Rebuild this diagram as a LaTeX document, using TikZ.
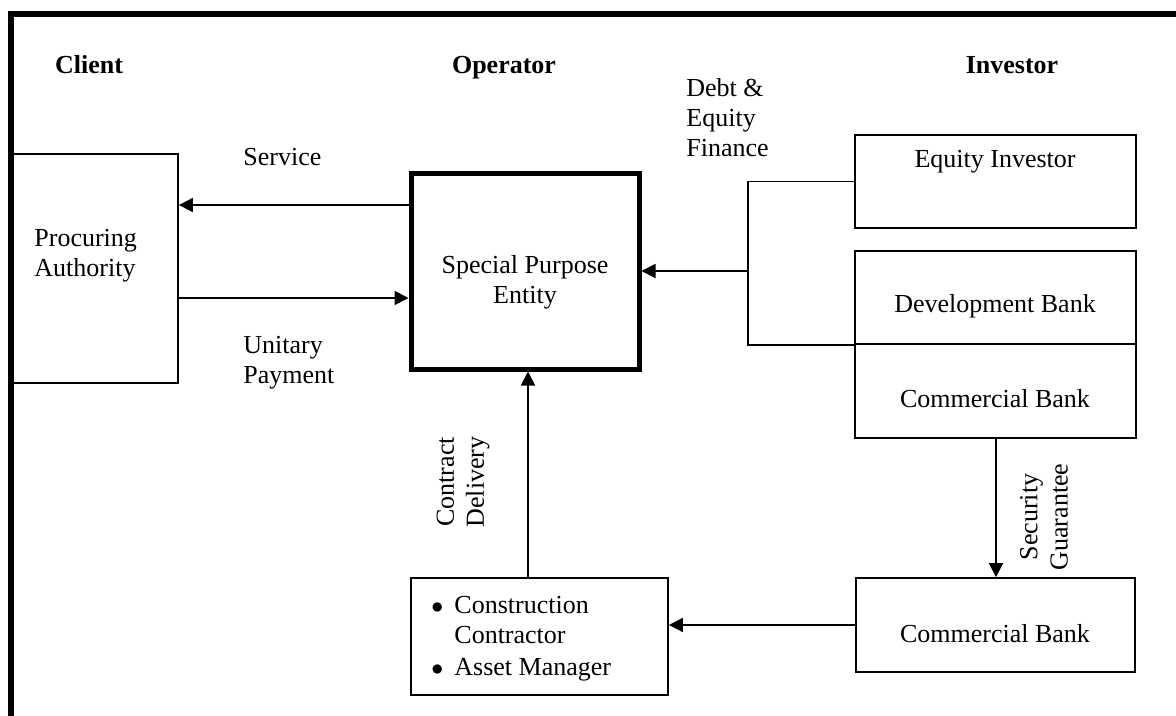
\documentclass[tikz,border=0pt]{standalone}
\usepackage{fontspec}
\setmainfont{Liberation Serif}
\usetikzlibrary{arrows.meta}
\tikzset{
  box/.style={draw, line width=0.9pt, inner sep=0pt},
  thickbox/.style={draw, line width=2.5pt, inner sep=0pt},
  txt/.style={inner sep=0pt, font=\fontsize{13pt}{15pt}\selectfont},
  hdr/.style={txt, font=\fontsize{13pt}{15pt}\selectfont\bfseries},
  conn/.style={line width=0.9pt},
  arr/.style={line width=0.9pt, -{Triangle[length=7pt,width=7pt]}},
}
\newcommand{\mybul}{\makebox[11.5pt][l]{$\bullet$}}
\begin{document}
\begin{tikzpicture}[x=0.5pt,y=-0.5pt]
\useasboundingbox (0,0) rectangle (1176,716);
% frame
\draw[line width=3pt, line join=miter] (11,730) -- (11,14) -- (1190,14);

% headers
\node[hdr, anchor=base] (hclient) at (89,74) {Client};
\node[hdr, anchor=base] (hoper) at (504,74) {Operator};
\node[hdr, anchor=base] (hinv) at (1012,74) {Investor};

% boxes
\node[box, minimum width=83pt, minimum height=114.5pt] (PA) at (95,268.5) {};
\node[thickbox, minimum width=114pt, minimum height=97.5pt] (SPE) at (525,271.5) {};
\node[box, minimum width=140.5pt, minimum height=46.5pt] (EI) at (995.5,181.5) {};
\node[box, minimum width=140.5pt, minimum height=46.5pt] (DB) at (995.5,297.5) {};
\node[box, minimum width=140.5pt, minimum height=47pt] (CB1) at (995.5,391) {};
\node[box, minimum width=128.5pt, minimum height=58.5pt] (CC) at (539.5,636.5) {};
\node[box, minimum width=139.5pt, minimum height=47pt] (CB2) at (995.5,625) {};

% box texts (base = baseline of the last line)
\node[txt, anchor=base west, align=left] (tPA) at (34,277) {Procuring\\Authority};
\node[txt, anchor=base, align=center] (tSPE) at (525,304) {Special Purpose\\Entity};
\node[txt, anchor=base] (tEI) at (995,168) {Equity Investor};
\node[txt, anchor=base] (tDB) at (995,313) {Development Bank};
\node[txt, anchor=base] (tCB1) at (995,407) {Commercial Bank};
\node[txt, anchor=base] (tCB2) at (995,642) {Commercial Bank};
\node[txt, anchor=base west, align=left] (tCC) at (431,675)
  {\mybul Construction\\
   \makebox[11.5pt][l]{}Contractor\\[1pt]
   \mybul Asset Manager};

% labels
\node[txt, anchor=base west] (lserv) at (243,166) {Service};
\node[txt, anchor=base west, align=left] (lpay) at (243,383) {Unitary\\Payment};
\node[txt, anchor=base west, align=left] (lfin) at (686,157) {Debt \&\\Equity\\Finance};
\node[txt, rotate=90, align=center] (lcd) at (463,482) {Contract\\Delivery};
\node[txt, rotate=90, align=center] (lsg) at (1044,517) {Security\\Guarantee};

% connectors
\coordinate (ys) at (0,205);
\coordinate (yu) at (0,298);
\coordinate (bx) at (748,0);
\coordinate (yf) at (0,271);
\coordinate (cdx) at (528,0);
\coordinate (sgx) at (996,0);
\draw[arr] (SPE.west |- ys) -- (PA.east |- ys);
\draw[arr] (PA.east |- yu) -- (SPE.west |- yu);
\draw[conn] (EI.west) -| (bx |- DB.south west) -- (DB.south west);
\draw[arr] (bx |- yf) -- (SPE.east |- yf);
\draw[arr] (CC.north -| cdx) -- (SPE.south -| cdx);
\draw[arr] (CB1.south -| sgx) -- (CB2.north -| sgx);
\draw[arr] (CB2.west) -- (CC.east |- CB2.west);
\end{tikzpicture}
\end{document}
